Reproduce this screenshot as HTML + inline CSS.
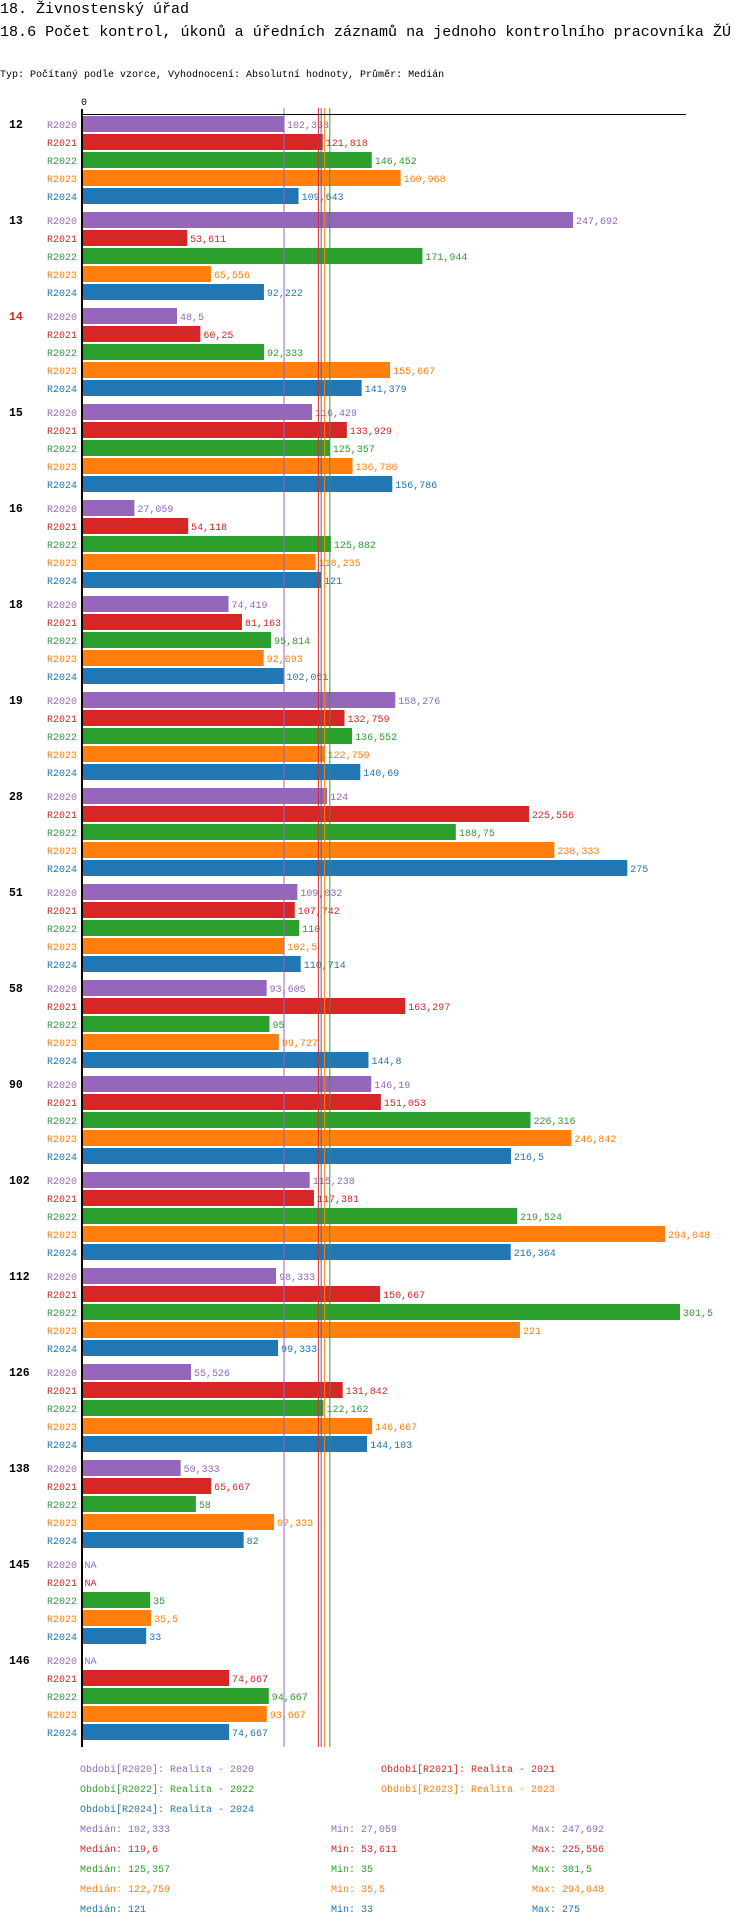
<!DOCTYPE html>
<html><head><meta charset="utf-8">
<style>
body{margin:0;background:#fff;width:750px;height:1926px;overflow:hidden}
svg{display:block}
text{font-family:"Liberation Mono",monospace}
</style></head>
<body>
<svg id="chart" width="750" height="1926">
<text x="0" y="13" font-size="15">18. Živnostenský úřad</text>
<text x="0" y="36" font-size="15" textLength="731" lengthAdjust="spacingAndGlyphs">18.6 Počet kontrol, úkonů a úředních záznamů na jednoho kontrolního pracovníka ŽÚ</text>
<text x="0" y="77" font-size="10">Typ: Počítaný podle vzorce, Vyhodnocení: Absolutní hodnoty, Průměr: Medián</text>
<text x="81" y="105" font-size="10">0</text>
</svg>
<script>
const groups=["12","13","14","15","16","18","19","28","51","58","90","102","112","126","138","145","146"];
const series=["R2020","R2021","R2022","R2023","R2024"];
const colors=["#9467bd","#d62728","#2ca02c","#ff7f0e","#1f77b4"];
const v2020=[102.333,247.692,48.5,116.429,27.059,74.419,158.276,124,109.032,93.605,146.19,115.238,98.333,55.526,50.333,null,null];
const v2021=[121.818,53.611,60.25,133.929,54.118,81.163,132.759,225.556,107.742,163.297,151.053,117.381,150.667,131.842,65.667,null,74.667];
const v2022=[146.452,171.944,92.333,125.357,125.882,95.814,136.552,188.75,110,95,226.316,219.524,301.5,122.162,58,35,94.667];
const v2023=[160.968,65.556,155.667,136.786,118.235,92.093,122.759,238.333,102.5,99.727,246.842,294.048,221,146.667,97.333,35.5,93.667];
const v2024=[109.643,92.222,141.379,156.786,121,102.051,140.69,275,110.714,144.8,216.5,216.364,99.333,144.103,82,33,74.667];
const medians=[102.333,119.6,125.357,122.759,121];
const mins=[27.059,53.611,35,35.5,33];
const maxs=[247.692,225.556,301.5,294.048,275];
const values=[v2020,v2021,v2022,v2023,v2024];

const svg=document.getElementById('chart');
const NS="http://www.w3.org/2000/svg";
const X0=80.6, K=1.988, BX=82.5;
const xs=v=>X0+v*K;
const rowY=(g,i)=>116+g*96+i*18;
const fmt=v=>String(v).replace('.',',');
function mk(tag,attrs,txt){const e=document.createElementNS(NS,tag);for(const k in attrs)e.setAttribute(k,attrs[k]);if(txt!==undefined)e.textContent=txt;svg.appendChild(e);return e;}

groups.forEach((g,gi)=>{
  const t=mk('text',{x:9,y:rowY(gi,0)+12,'font-size':11.5,'font-weight':'bold',fill:g==="14"?"#d62728":"#000"},g);
  
  
  series.forEach((s,si)=>{
    const y=rowY(gi,si);
    const l=mk('text',{x:77,y:y+12,'font-size':10,'text-anchor':'end',fill:colors[si]},s);
    
    
    const v=values[si][gi];
    if(v===null){
      const n=mk('text',{x:BX+2,y:y+12,'font-size':10,fill:colors[si]},'NA');
      
      
      return;
    }
    const r=mk('rect',{x:BX,y:y,width:Math.max(0,xs(v)-BX),height:16,fill:colors[si]});
    
    
    const vl=mk('text',{x:xs(v)+3,y:y+12,'font-size':10,fill:colors[si]},fmt(v));
    
    
  });
});
medians.forEach((m,i)=>{
  const ln=mk('line',{x1:xs(m),x2:xs(m),y1:108,y2:1747,stroke:colors[i],'stroke-width':1});
  
  
});
const ax=mk('line',{x1:82,x2:82,y1:109,y2:1747,stroke:'#000','stroke-width':2});


const tx=mk('line',{x1:81,x2:686,y1:114.5,y2:114.5,stroke:'#000','stroke-width':1});



const legPos=[[80,1772],[381,1772],[80,1792],[381,1792],[80,1812]];
series.forEach((s,i)=>{
  const t=mk('text',{x:legPos[i][0],y:legPos[i][1],'font-size':10,fill:colors[i]},'Období['+s+']: Realita - '+s.slice(1));
  
  
  const y=1832+i*20;
  const a=mk('text',{x:80,y:y,'font-size':10,fill:colors[i]},'Medián: '+fmt(medians[i]));
  
  
  const b=mk('text',{x:331,y:y,'font-size':10,fill:colors[i]},'Min: '+fmt(mins[i]));
  
  
  const c=mk('text',{x:532,y:y,'font-size':10,fill:colors[i]},'Max: '+fmt(maxs[i]));
  
  
});
</script>
</body></html>
